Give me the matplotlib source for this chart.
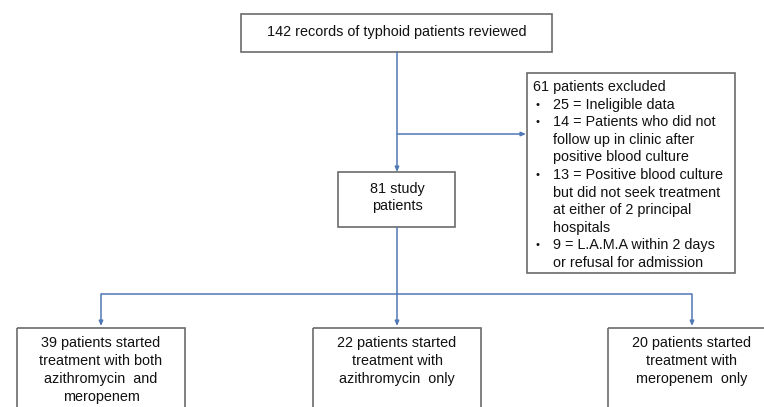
import matplotlib.pyplot as plt
from matplotlib.patches import Rectangle

plt.rcParams['font.family'] = ['Liberation Sans', 'DejaVu Sans']

# text of the flow chart
top_text = "142 records of typhoid patients reviewed"
study_text = ["81 study", "patients"]
excl_title = "61 patients excluded"
excl_items = [
    ["25 = Ineligible data"],
    ["14 = Patients who did not", "follow up in clinic after", "positive blood culture"],
    ["13 = Positive blood culture", "but did not seek treatment",
     "at either of 2 principal", "hospitals"],
    ["9 = L.A.M.A within 2 days", "or refusal for admission"],
]
group_texts = [
    ["39 patients started", "treatment with both", "azithromycin  and", "meropenem"],
    ["22 patients started", "treatment with", "azithromycin  only"],
    ["20 patients started", "treatment with", "meropenem  only"],
]

# layout (pixels, y down)
W, H = 764, 407
edge = '#6b6b6b'
blue = '#4f78b5'
ink = '#111111'
fs = 10.4
line_h = 17.6

fig = plt.figure(figsize=(W / 100, H / 100), dpi=100)
ax = fig.add_axes([0, 0, 1, 1])
ax.set_xlim(0, W)
ax.set_ylim(H, 0)
ax.axis('off')


def box(x0, y0, x1, y1):
    ax.add_patch(Rectangle((x0, y0), x1 - x0, y1 - y0, fill=False,
                           edgecolor=edge, linewidth=1.2, clip_on=False))


def line(xs, ys):
    ax.plot(xs, ys, color=blue, linewidth=1.1, solid_capstyle='butt')


def arrow(x0, y0, x1, y1):
    ax.annotate('', xy=(x1, y1), xytext=(x0, y0),
                arrowprops=dict(arrowstyle='-|>,head_length=0.28,head_width=0.12',
                                color=blue, lw=1.1, shrinkA=0, shrinkB=0))


def txt(x, y, s, ha='center'):
    ax.text(x, y, s, ha=ha, va='center', fontsize=fs, color=ink)


# top box
box(241, 14, 552, 52)
txt(397, 32, top_text)

# trunk to study box, branch to excluded box
arrow(397, 52, 397, 172)
arrow(397, 134, 526, 134)

# study box
box(338, 172, 455, 227)
for i, s in enumerate(study_text):
    txt(397, 189 + i * 17, s)

# excluded box
box(527, 73, 735, 273)
y = 87
txt(533, y, excl_title, ha='left')
for item in excl_items:
    for j, s in enumerate(item):
        y += line_h
        if j == 0:
            ax.text(535, y, '\u2022', ha='left', va='center', fontsize=8, color=ink)
        txt(553, y, s, ha='left')

# split to the three groups
centers = [101, 397, 692]
line([397, 397], [227, 294])
line([centers[0], centers[-1]], [294, 294])
for cx, texts in zip(centers, group_texts):
    arrow(cx, 294, cx, 326)
    box(cx - 84, 328, cx + 84, 430)
    for i, s in enumerate(texts):
        txt(cx, 343 + i * 18, s)

fig.savefig('out.png', dpi=100)
